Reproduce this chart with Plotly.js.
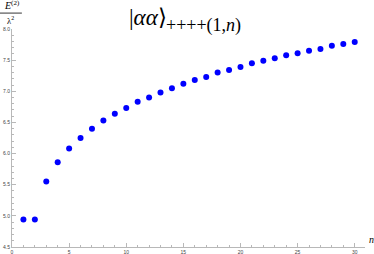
<!DOCTYPE html>
<html><head><meta charset="utf-8">
<script src="https://cdn.plot.ly/plotly-3.0.1.min.js"></script>
<style>html,body{margin:0;padding:0;background:#fff}#c{width:374px;height:254px}</style>
</head><body><div id="c"></div>
<script>
const nValues = [1,2,3,4,5,6,7,8,9,10,11,12,13,14,15,16,17,18,19,20,21,22,23,24,25,26,27,28,29,30];
const energy = [4.94,4.94,5.55,5.86,6.08,6.25,6.40,6.53,6.64,6.73,6.83,6.90,6.98,7.05,7.12,7.18,7.23,7.30,7.34,7.39,7.45,7.49,7.53,7.58,7.61,7.65,7.68,7.73,7.76,7.79];
const xTicks = [0,5,10,15,20,25,30];
const yTicks = [4.5,5.0,5.5,6.0,6.5,7.0,7.5,8.0];
const titleMain = '|<i>αα</i>⟩';
const titleSub = '++++(1,<i>n</i>)';

const serif = 'Liberation Serif';
const axisCol = '#b8b8b8';
const tickFont = {family:'Liberation Sans, Arial', size:5, color:'#444'};
Plotly.newPlot('c', [{
  x: nValues, y: energy, type:'scatter', mode:'markers',
  marker:{color:'#0000ff', size:6}, hoverinfo:'none'
}], {
  width:374, height:254,
  margin:{l:12, r:9, t:29, b:7},
  paper_bgcolor:'#fff', plot_bgcolor:'#fff',
  showlegend:false,
  title:{text:titleMain, x:129/374, y:0.932, xref:'container', yref:'container', xanchor:'left', yanchor:'middle',
    font:{family:serif, size:23, color:'#000'}},
  xaxis:{range:[0,30.9], tickvals:xTicks, ticktext:xTicks.map(String), showgrid:false, zeroline:false,
    showline:true, linecolor:axisCol, linewidth:1, ticks:'inside', ticklen:4, tickcolor:axisCol, tickwidth:1,
    minor:{dtick:1, tick0:0, ticks:'inside', ticklen:2, tickcolor:axisCol, showgrid:false},
    tickfont:tickFont, ticklabelstandoff:0, automargin:false, fixedrange:true},
  yaxis:{range:[4.5,8.0], tickvals:yTicks, ticktext:yTicks.map(v=>v.toFixed(1)), showgrid:false, zeroline:false,
    showline:true, linecolor:axisCol, linewidth:1, ticks:'inside', ticklen:4, tickcolor:axisCol, tickwidth:1,
    minor:{dtick:0.1, tick0:4.5, ticks:'inside', ticklen:2, tickcolor:axisCol, showgrid:false},
    tickfont:tickFont, ticklabelstandoff:0, automargin:false, fixedrange:true},
  shapes:[{type:'line', xref:'paper', yref:'paper', x0:-0.035, x1:0.028, y0:1.073, y1:1.073, line:{color:'#000', width:0.8}}],
  annotations:[
    {text:titleSub, xref:'paper', yref:'paper', x:(164-12)/353, y:(247-25.5)/218, xanchor:'left', yanchor:'middle', showarrow:false,
      font:{family:serif, size:18, color:'#000'}},
    {text:'<i>E</i><sup>(2)</sup>', xref:'paper', yref:'paper', x:0.0, y:1.075, xanchor:'center', yanchor:'bottom', showarrow:false,
      font:{family:serif, size:10, color:'#000'}},
    {text:'λ<sup>2</sup>', xref:'paper', yref:'paper', x:-0.003, y:1.073, xanchor:'center', yanchor:'top', showarrow:false,
      font:{family:serif, size:8.5, color:'#000'}},
    {text:'<i>n</i>', xref:'paper', yref:'paper', x:1.005, y:0.0, xanchor:'left', yanchor:'bottom', showarrow:false,
      font:{family:serif, size:10, color:'#000'}}
  ]
}, {staticPlot:true});
</script></body></html>
